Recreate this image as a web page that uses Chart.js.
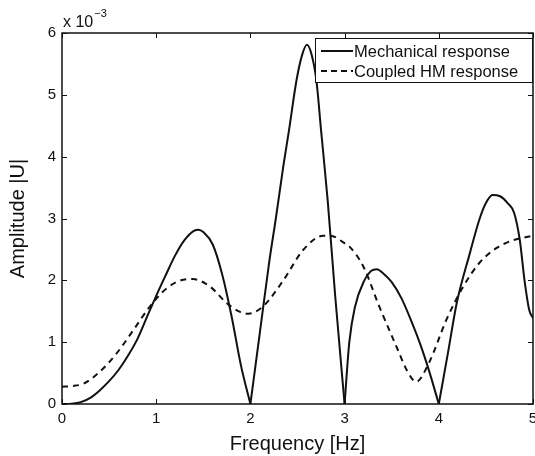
<!DOCTYPE html>
<html>
<head>
<meta charset="utf-8">
<script src="https://cdn.jsdelivr.net/npm/chart.js@4.4.0/dist/chart.umd.min.js"></script>
<style>
  html, body { margin: 0; padding: 0; background: #fff; }
  #wrap { width: 535px; height: 456px; }
</style>
</head>
<body>
<div id="wrap"><canvas id="amplitudeChart"></canvas></div>
<script>
'use strict';

// Data (amplitude in units of 1e-3)
const mechFreq = [0, 0.1, 0.2, 0.3, 0.4, 0.5, 0.6, 0.7, 0.8, 0.9, 1.0, 1.1, 1.2, 1.3, 1.4, 1.45, 1.5, 1.6, 1.7, 1.8, 1.9, 1.95, 2.0,
  2.1, 2.2, 2.27, 2.35, 2.41, 2.49, 2.55, 2.6, 2.65, 2.7, 2.75, 2.82, 2.9, 3.0,
  3.05, 3.11, 3.21, 3.28, 3.34, 3.42, 3.5, 3.6, 3.69, 3.8, 3.9, 4.0,
  4.1, 4.19, 4.33, 4.43, 4.5, 4.57, 4.65, 4.73, 4.8, 4.86, 4.91, 4.96, 5.0];
const mechAmp = [0, 0.005, 0.03, 0.1, 0.22, 0.37, 0.55, 0.78, 1.05, 1.4, 1.75, 2.08, 2.4, 2.65, 2.8, 2.82, 2.78, 2.58, 2.1, 1.42, 0.62, 0.3, 0,
  1.15, 2.3, 3.0, 3.85, 4.43, 5.24, 5.65, 5.81, 5.65, 5.24, 4.43, 3.3, 1.75, 0,
  1.0, 1.57, 2.0, 2.15, 2.18, 2.1, 1.97, 1.72, 1.41, 0.98, 0.52, 0,
  0.85, 1.63, 2.44, 2.98, 3.25, 3.38, 3.36, 3.25, 3.09, 2.65, 2.0, 1.52, 1.39];

const coupledFreq = [0, 0.1, 0.23, 0.4, 0.58, 0.76, 0.93, 1.11, 1.29, 1.39, 1.57, 1.75, 1.89, 1.98, 2.05, 2.15, 2.35, 2.56, 2.77, 2.85, 3.0, 3.05,
  3.2, 3.37, 3.55, 3.67, 3.76, 3.9, 4.08, 4.26, 4.43, 4.61, 4.79, 4.93, 5.0];
const coupledAmp = [0.28, 0.29, 0.33, 0.52, 0.82, 1.2, 1.57, 1.87, 2.01, 2.02, 1.9, 1.63, 1.49, 1.46, 1.49, 1.6, 2.0, 2.49, 2.72, 2.72, 2.6, 2.55,
  2.22, 1.57, 0.93, 0.52, 0.36, 0.68, 1.36, 1.9, 2.28, 2.52, 2.65, 2.7, 2.72];

const xTicks = [0, 1, 2, 3, 4, 5];
const yTicks = [0, 1, 2, 3, 4, 5, 6];
const seriesNames = ['Mechanical response', 'Coupled HM response'];

const toPoints = (xs, ys) => xs.map((x, i) => ({ x: x, y: ys[i] }));

// split the mechanical curve at its zeros so the cusps stay sharp
function splitAtZeros(xs, ys) {
  const parts = [];
  let cur = [];
  xs.forEach(function (x, i) {
    cur.push({ x: x, y: ys[i] });
    if (ys[i] === 0 && cur.length > 1) {
      parts.push(cur);
      cur = [{ x: x, y: ys[i] }];
    }
  });
  if (cur.length > 1) parts.push(cur);
  return parts;
}

const fontFamily = '"Liberation Sans", Arial, Helvetica, sans-serif';
const ink = '#111';

// Box, inward ticks, exponent and legend drawn MATLAB style
const matlabFrame = {
  id: 'matlabFrame',
  afterDraw(chart) {
    const ctx = chart.ctx;
    const a = chart.chartArea;
    const xs = chart.scales.x, ys = chart.scales.y;
    ctx.save();
    ctx.strokeStyle = ink;
    ctx.lineWidth = 1.5;
    ctx.strokeRect(a.left, a.top, a.right - a.left, a.bottom - a.top);
    ctx.lineWidth = 1;
    const tl = 5;
    xTicks.forEach(function (v) {
      const px = Math.round(xs.getPixelForValue(v)) + 0.5;
      ctx.beginPath();
      ctx.moveTo(px, a.bottom); ctx.lineTo(px, a.bottom - tl);
      ctx.moveTo(px, a.top); ctx.lineTo(px, a.top + tl);
      ctx.stroke();
    });
    yTicks.forEach(function (v) {
      const py = Math.round(ys.getPixelForValue(v)) + 0.5;
      ctx.beginPath();
      ctx.moveTo(a.left, py); ctx.lineTo(a.left + tl, py);
      ctx.moveTo(a.right, py); ctx.lineTo(a.right - tl, py);
      ctx.stroke();
    });

    // exponent label
    ctx.fillStyle = ink;
    ctx.textBaseline = 'alphabetic';
    ctx.textAlign = 'left';
    ctx.font = '16px ' + fontFamily;
    ctx.fillText('x 10', a.left + 1, 27);
    const w = ctx.measureText('x 10').width;
    ctx.font = '11px ' + fontFamily;
    ctx.fillText('\u22123', a.left + w + 2, 17);

    // legend
    const lx = 315, ly = 38, lw = 217, lh = 44;
    ctx.fillStyle = '#fff';
    ctx.fillRect(lx, ly, lw, lh);
    ctx.strokeStyle = ink;
    ctx.lineWidth = 1;
    ctx.strokeRect(lx + 0.5, ly + 0.5, lw, lh);
    ctx.font = '16.5px ' + fontFamily;
    ctx.fillStyle = ink;
    ctx.textBaseline = 'middle';
    const rows = [ly + 13, ly + 33];
    const dashes = [[], [6, 4]];
    rows.forEach(function (ry, i) {
      ctx.beginPath();
      ctx.setLineDash(dashes[i]);
      ctx.lineWidth = 2;
      ctx.moveTo(lx + 6, ry);
      ctx.lineTo(lx + 38, ry);
      ctx.stroke();
      ctx.setLineDash([]);
      ctx.fillText(seriesNames[i], lx + 39, ry + 1);
    });
    ctx.restore();
  }
};

const mechLobes = splitAtZeros(mechFreq, mechAmp).map(function (pts) {
  return {
    label: seriesNames[0],
    data: pts,
    borderColor: ink,
    borderWidth: 2,
    pointRadius: 0,
    fill: false,
    cubicInterpolationMode: 'monotone'
  };
});

const amplitudeChart = document.getElementById('amplitudeChart');
if (amplitudeChart) {
  const amplitudeChart_Var = new Chart(amplitudeChart, {
    type: 'line',
    data: {
      datasets: mechLobes.concat([
        {
          label: seriesNames[1],
          data: toPoints(coupledFreq, coupledAmp),
          borderColor: ink,
          borderWidth: 2,
          borderDash: [6, 5],
          pointRadius: 0,
          fill: false,
          cubicInterpolationMode: 'monotone'
        }
      ])
    },
    options: {
      responsive: true,
      maintainAspectRatio: false,
      animation: false,
      layout: {
        padding: { top: 33, right: 2, left: 0, bottom: 0 }
      },
      plugins: {
        legend: { display: false },
        tooltip: { enabled: false }
      },
      scales: {
        x: {
          type: 'linear',
          min: 0,
          max: 5,
          afterFit: function (scale) {
            scale.height = 52;
            scale.paddingLeft = 0;
            scale.paddingRight = 0;
          },
          afterBuildTicks: function (scale) { scale.ticks = xTicks.map(v => ({ value: v })); },
          grid: { display: false, drawTicks: false },
          border: { display: false },
          ticks: {
            color: ink,
            padding: 6,
            maxRotation: 0,
            font: { family: fontFamily, size: 15 }
          },
          title: {
            display: true,
            text: 'Frequency [Hz]',
            color: ink,
            padding: { top: 0, bottom: 0 },
            font: { family: fontFamily, size: 20 }
          }
        },
        y: {
          min: 0,
          max: 6,
          afterFit: function (scale) {
            scale.width = 62;
            scale.paddingTop = 0;
            scale.paddingBottom = 0;
          },
          afterBuildTicks: function (scale) { scale.ticks = yTicks.map(v => ({ value: v })); },
          grid: { display: false, drawTicks: false },
          border: { display: false },
          ticks: {
            color: ink,
            padding: 6,
            font: { family: fontFamily, size: 15 }
          },
          title: {
            display: true,
            text: 'Amplitude |U|',
            color: ink,
            padding: { top: 6, bottom: 0 },
            font: { family: fontFamily, size: 20 }
          }
        }
      }
    },
    plugins: [matlabFrame]
  });
}
</script>
</body>
</html>
